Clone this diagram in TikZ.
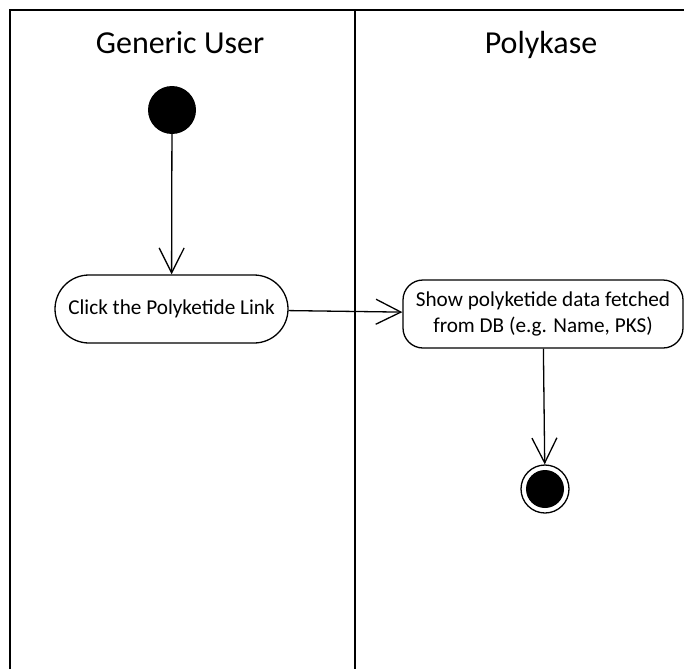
\documentclass[tikz,border=0pt]{standalone}
\usepackage{fontspec}
\setmainfont{Carlito}
\usetikzlibrary{arrows.meta,positioning}

\tikzset{
	action/.style={draw, line width=1.3pt, rounded corners=20pt, align=center, font=\fontsize{21.2}{26}\selectfont, inner sep=4pt},
	flow/.style={draw, line width=1.3pt, -{Straight Barb[length=25pt,width=25pt,line width=1.3pt]}},
	lane/.style={line width=2pt},
	title/.style={anchor=base, font=\fontsize{32}{38}\selectfont},
}

\begin{document}
\begin{tikzpicture}[x=1pt,y=-1pt]
		\useasboundingbox (0,0) rectangle (684,669);

		% swimlanes
		\draw[lane] (10,669) -- (10,10) -- (684,10);
		\draw[lane] (355,10) -- (355,669);
		\draw (180,53) node [title] (user) {Generic User};
		\draw (541,53) node [title] (pks) {Polykase};

		\draw (172,110) node [circle, fill=black, minimum size=48pt, inner sep=0pt] (start) {};
		\draw (171.5,309) node [action, rounded corners=34pt, minimum width=233pt, minimum height=68pt] (click) {Click the Polyketide Link};
		\draw (543,314) node [action, minimum width=280pt, minimum height=68pt] (show) {Show polyketide data fetched\\from DB (e.g. Name, PKS)};
		\draw (545,489) node [circle, draw, line width=1.3pt, minimum size=48pt, inner sep=0pt] (stop) {};
		\fill (stop) circle (19pt);

		\draw[flow] (start) -- (click);
		\draw[flow] (click) -- (show);
		\draw[flow] (show) -- (stop);
	\end{tikzpicture}
\end{document}
